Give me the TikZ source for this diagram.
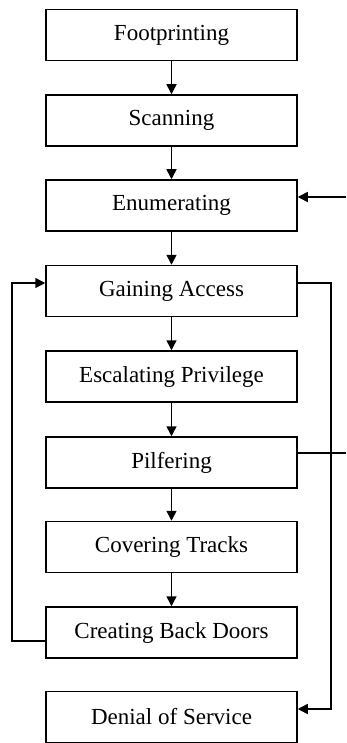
\documentclass[tikz,border=0pt]{standalone}
\usepackage{fontspec}
\setmainfont{Liberation Serif}
\usetikzlibrary{arrows.meta}
\begin{document}
\begin{tikzpicture}[x=1pt,y=-1pt,
  stage/.style={draw, line width=1.5pt, rectangle, minimum width=251pt,
    minimum height=51pt, inner sep=0pt, font=\fontsize{23}{26}\selectfont},
  link/.style={line width=1.5pt, -{Triangle[length=10pt,width=10pt]}},
  wire/.style={line width=1.5pt}]
\useasboundingbox (0,0) rectangle (346,743);
\node[stage] (foot)  at (171.5,35)    {Footprinting};
\node[stage] (scan)  at (171.5,120.5) {Scanning};
\node[stage] (enum)  at (171.5,205.5) {Enumerating};
\node[stage] (gain)  at (171.5,291)   {Gaining Access};
\node[stage] (esc)   at (171.5,376.5) {Escalating Privilege};
\node[stage] (pilf)  at (171.5,462.5) {Pilfering};
\node[stage] (cover) at (171.5,547)   {Covering Tracks};
\node[stage] (back)  at (171.5,632.5) {Creating Back Doors};
\node[stage] (dos)   at (171.5,717)   {Denial of Service};
% main sequence
\draw[link] (foot) -- (scan);
\draw[link] (scan) -- (enum);
\draw[link] (enum) -- (gain);
\draw[link] (gain) -- (esc);
\draw[link] (esc) -- (pilf);
\draw[link] (pilf) -- (cover);
\draw[link] (cover) -- (back);
% side routes
\coordinate (enumIn) at (346,197);
\coordinate (pilfOut) at (346,453);
\coordinate (loopTop) at (12,283);
\coordinate (loopBot) at (12,641);
\coordinate (rightTop) at (331,283);
\coordinate (rightBot) at (331,709);
\draw[link] (enumIn) -- (enumIn -| enum.east);
\draw[wire] (pilfOut -| pilf.east) -- (pilfOut);
\draw[link] (loopBot -| back.west) -- (loopBot) -- (loopTop) -- (loopTop -| gain.west);
\draw[link] (rightTop -| gain.east) -- (rightTop) -- (rightBot) -- (rightBot -| dos.east);
\end{tikzpicture}
\end{document}
